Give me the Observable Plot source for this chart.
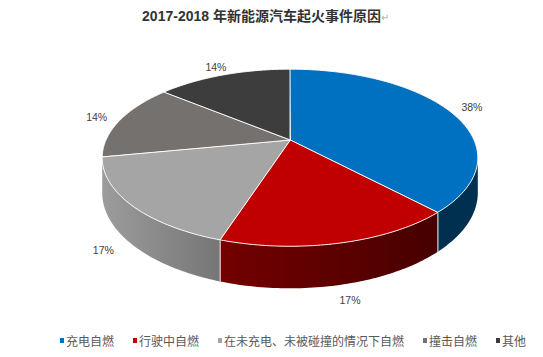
<!DOCTYPE html>
<html><head><meta charset="utf-8">
<script src="https://cdn.jsdelivr.net/npm/d3@7"></script>
<script src="https://cdn.jsdelivr.net/npm/@observablehq/plot@0.6"></script>
<style>
body{margin:0;background:#fff;width:543px;height:357px;position:relative;overflow:hidden;font-family:"Liberation Sans",Arial,"Noto Sans CJK SC",sans-serif}
#title{position:absolute;left:0;top:6px;width:531px;text-align:center;font-size:14px;line-height:18px;font-weight:bold;color:#333;white-space:nowrap}
#title .cjk{font-family:"Noto Sans CJK SC",sans-serif}
#title .ret{font-weight:normal;color:#aaa;font-size:10px}
#chart{position:absolute;left:0;top:32px}
#legend{position:absolute;left:60px;top:330px;white-space:nowrap;font-size:12px;line-height:16px;color:#595959;font-family:"Noto Sans CJK SC",sans-serif}
#legend .item{display:inline-flex;align-items:center;margin-right:19px}
#legend .sw{display:inline-block;width:4px;height:5px;margin-right:2px}
</style>
</head><body>
<div id="title"></div>
<div id="chart"></div>
<div id="legend"></div>
<script>
const titleYears = "2017-2018 ";
const titleText = "年新能源汽车起火事件原因";
const categories = ["充电自燃", "行驶中自燃", "在未充电、未被碰撞的情况下自燃", "撞击自燃", "其他"];
const values = [38, 17, 17, 14, 14];
const labels = ["38%", "17%", "17%", "14%", "14%"];
const topColors = ["#0070C0", "#C00000", "#A5A5A5", "#75716F", "#3D3D3D"];
const sideFrom = ["#00304F", "#740000", "#9C9C9C", "#5a5756", "#2c2c2c"];
const sideTo = ["#00304F", "#470000", "#767676", "#4a4746", "#222222"];

// title & legend
document.getElementById("title").innerHTML =
  titleYears + '<span class="cjk">' + titleText + '</span><span class="ret">↵</span>';
const leg = document.getElementById("legend");
categories.forEach((c, i) => {
  const it = document.createElement("span"); it.className = "item";
  const sw = document.createElement("span"); sw.className = "sw"; sw.style.background = topColors[i];
  const tx = document.createElement("span"); tx.textContent = c;
  it.appendChild(sw); it.appendChild(tx); leg.appendChild(it);
});

// geometry of the perspective 3D pie
const P = 0.2, H = 0.396, LR = 1.15;
const rad = d => d * Math.PI / 180;
function proj(phi, r, z) {
  const u = r * Math.sin(rad(phi)), v = r * Math.cos(rad(phi)), w = 1 + P * v;
  return {X: u / w, Y: (v + z * H) / w, v};
}
const total = d3.sum(values);
let acc = 0;
const slices = values.map((v, i) => {
  const a0 = acc / total * 360; acc += v;
  return {i, a0, a1: acc / total * 360};
});
function samples(a0, a1) {
  const n = Math.max(2, Math.ceil((a1 - a0) / 1));
  return d3.range(n + 1).map(k => a0 + (a1 - a0) * k / n);
}
const phiR = Math.acos(-P) * 180 / Math.PI, phiL = 360 - phiR;

const marks = [];
// sides
slices.forEach(s => {
  const b0 = Math.max(s.a0, phiR), b1 = Math.min(s.a1, phiL);
  if (b1 <= b0) return;
  const pts = samples(b0, b1).map(a => {
    const t = proj(a, 1, 0), b = proj(a, 1, -1);
    return {X: t.X, Yt: t.Y, Yb: b.Y};
  });
  marks.push(Plot.areaY(pts, {x: "X", y1: "Yt", y2: "Yb", fill: `url(#side-${s.i})`, curve: "linear"}));
});
// side separators
const seps = slices.map(s => s.a0).filter(a => a > phiR && a < phiL).map(a => {
  const t = proj(a, 1, 0), b = proj(a, 1, -1);
  return {x1: t.X, y1: t.Y, x2: b.X, y2: b.Y};
});
// top faces
slices.forEach(s => {
  const pts = samples(s.a0, s.a1).map(a => { const t = proj(a, 1, 0); return {X: t.X, Y: t.Y, CX: 0, CY: 0}; });
  marks.push(Plot.area(pts, {x1: "X", y1: "Y", x2: "CX", y2: "CY", fill: topColors[s.i], stroke: "#fff", strokeWidth: 1, strokeOpacity: 0.9, curve: "linear"}));
});
marks.push(Plot.link(seps, {x1: "x1", y1: "y1", x2: "x2", y2: "y2", stroke: "#fff", strokeWidth: 1, strokeOpacity: 0.85}));
// labels
const labelData = slices.map(s => {
  const m = (s.a0 + s.a1) / 2;
  const c = proj(m, 1, 0);
  const p = proj(m, LR, c.v < 0 ? -0.85 : 0);
  return {X: p.X, Y: p.Y, text: labels[s.i]};
});
marks.push(Plot.text(labelData, {x: "X", y: "Y", text: "text", fontSize: 10.5, fill: "#404040", fontFamily: "Liberation Sans, Arial, sans-serif"}));

const svg = Plot.plot({
  width: 543, height: 290, margin: 0,
  x: {domain: [-290 / 184, 253 / 184], axis: null},
  y: {domain: [(108 - 290) / 85, 108 / 85], axis: null},
  style: {background: "transparent", overflow: "visible"},
  marks
});
const ns = "http://www.w3.org/2000/svg";
const defs = document.createElementNS(ns, "defs");
slices.forEach(s => {
  const g = document.createElementNS(ns, "linearGradient");
  g.setAttribute("id", `side-${s.i}`);
  g.setAttribute("x1", "0"); g.setAttribute("x2", "1"); g.setAttribute("y1", "0"); g.setAttribute("y2", "0");
  [[0, sideFrom[s.i]], [1, sideTo[s.i]]].forEach(([o, c]) => {
    const st = document.createElementNS(ns, "stop");
    st.setAttribute("offset", o); st.setAttribute("stop-color", c);
    g.appendChild(st);
  });
  defs.appendChild(g);
});
svg.insertBefore(defs, svg.firstChild);
document.getElementById("chart").appendChild(svg);
</script>
</body></html>
